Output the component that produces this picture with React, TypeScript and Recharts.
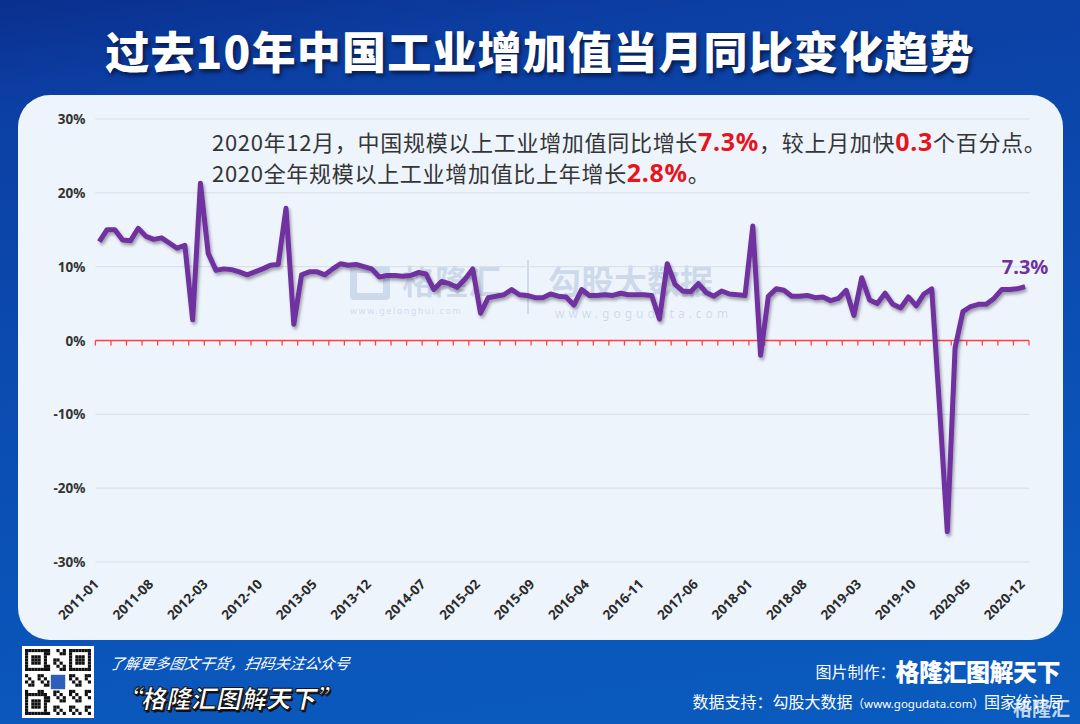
import React from "react";
import {
  ComposedChart,
  Line,
  XAxis,
  YAxis,
  CartesianGrid,
  ReferenceLine,
  LabelList,
} from "recharts";

// 2011-01 .. 2020-12
const years = [2011, 2012, 2013, 2014, 2015, 2016, 2017, 2018, 2019, 2020];
const monthNums = ["01", "02", "03", "04", "05", "06", "07", "08", "09", "10", "11", "12"];
const months = years.flatMap((y) => monthNums.map((m) => `${y}-${m}`));

// 工业增加值当月同比 (%)
const yoy = [
  13.4, 15.0, 15.0, 13.6, 13.5, 15.2, 14.1, 13.7, 13.9, 13.2, 12.5, 12.9,
  2.8, 21.3, 11.8, 9.5, 9.7, 9.6, 9.3, 8.9, 9.3, 9.7, 10.2, 10.3,
  17.9, 2.2, 8.9, 9.3, 9.3, 8.9, 9.7, 10.4, 10.2, 10.3, 10.0, 9.7,
  8.6, 8.8, 8.8, 8.7, 8.8, 9.2, 9.0, 6.9, 8.0, 7.7, 7.2, 8.3,
  9.7, 3.7, 5.8, 6.0, 6.2, 6.9, 6.2, 6.1, 5.8, 5.8, 6.3, 6.0,
  5.9, 4.8, 6.9, 6.1, 6.1, 6.2, 6.1, 6.4, 6.2, 6.2, 6.2, 6.1,
  2.9, 10.4, 7.6, 6.7, 6.6, 7.7, 6.5, 6.0, 6.7, 6.3, 6.2, 6.1,
  15.5, -2.0, 6.0, 7.0, 6.8, 6.0, 6.0, 6.1, 5.8, 5.9, 5.4, 5.7,
  6.8, 3.4, 8.5, 5.5, 5.0, 6.4, 4.9, 4.4, 5.9, 4.7, 6.3, 7.0,
  -9.0, -25.9, -1.0, 3.9, 4.6, 4.9, 4.9, 5.7, 6.9, 6.9, 7.0, 7.3,
];

const yTicks = [-30, -20, -10, 0, 10, 20, 30];

const data = months.map((month, i) => ({ month, yoy: yoy[i] }));

const PURPLE = "#7030a0";
const RED = "#e8141c";
const FONT = '"Noto Sans", "Noto Sans CJK SC", sans-serif';
const CJK = '"Noto Sans CJK SC", "Noto Sans", sans-serif';
const WM = "rgba(120,150,190,0.28)";

const MonthTick = ({ x, y, payload }: any) => {
  const tx = x + 0.5;
  const ty = y + 23;
  return (
    <text
      x={tx}
      y={ty}
      transform={`rotate(-45 ${tx} ${ty})`}
      textAnchor="end"
      fontSize={13.5}
      fontWeight={700}
      fill="#2b2b2b"
      fontFamily={FONT}
    >
      {payload.value}
    </text>
  );
};

const PctTick = ({ x, y, payload }: any) => (
  <text
    x={x}
    y={y}
    dy={5}
    textAnchor="end"
    fontSize={13.5}
    fontWeight={700}
    fill="#333"
    fontFamily={FONT}
  >
    {payload.value}%
  </text>
);

// 0 轴红线，每两个月一个刻度（刻度在分类边界）
const ZeroAxis = (props: any) => {
  const { x1, y1, x2 } = props;
  const step = (x2 - x1) / months.length;
  const ticks = [];
  for (let k = 0; k <= months.length; k += 2) {
    const tx = x1 + step * k;
    ticks.push(
      <line key={k} x1={tx} y1={y1} x2={tx} y2={y1 + 5} stroke="#ff4040" strokeWidth={1.3} />
    );
  }
  return (
    <g>
      <line x1={x1} y1={y1} x2={x2} y2={y1} stroke="#ff4040" strokeWidth={1.6} />
      {ticks}
    </g>
  );
};

const LastLabel = (props: any) => {
  const { x, y, value, index } = props;
  if (index !== yoy.length - 1) return null;
  return (
    <text
      x={x}
      y={y - 13}
      textAnchor="middle"
      fontSize={20}
      fontWeight={700}
      fill={PURPLE}
      fontFamily={FONT}
    >
      {value}%
    </text>
  );
};

const QR = () => {
  const n = 21;
  const cells = [];
  const finder = (r: number, c: number) => {
    const inBox = (r0: number, c0: number) =>
      r >= r0 && r < r0 + 7 && c >= c0 && c < c0 + 7;
    for (const [r0, c0] of [[0, 0], [0, n - 7], [n - 7, 0]]) {
      if (inBox(r0, c0)) {
        const rr = r - r0;
        const cc = c - c0;
        const ring = rr === 0 || rr === 6 || cc === 0 || cc === 6;
        const core = rr >= 2 && rr <= 4 && cc >= 2 && cc <= 4;
        return ring || core ? 1 : 0;
      }
    }
    return -1;
  };
  for (let r = 0; r < n; r++) {
    for (let c = 0; c < n; c++) {
      const f = finder(r, c);
      const on = f === -1 ? (r * 7 + c * 13 + r * c) % 5 < 2 : f === 1;
      if (on) cells.push(<rect key={`${r}-${c}`} x={c} y={r} width={1} height={1} fill="#111" />);
    }
  }
  return (
    <svg width={66} height={66} viewBox={`0 0 ${n} ${n}`} style={{ display: "block" }}>
      {cells}
      <rect x={8} y={8} width={5} height={5} fill="#2b5fb8" stroke="#fff" strokeWidth={0.4} />
    </svg>
  );
};

export default function App() {
  return (
    <div
      style={{
        position: "absolute",
        left: 0,
        top: 0,
        width: 1080,
        height: 724,
        overflow: "hidden",
        fontFamily: CJK,
        background:
          "linear-gradient(172deg, #0a2f8e 0%, #0c3fa3 12%, #0b4cb1 45%, #0a5cc0 100%)",
      }}
    >
      <svg width={0} height={0} style={{ position: "absolute" }}>
        <defs>
          <filter id="lineShadow" x="-5%" y="-5%" width="110%" height="120%">
            <feDropShadow dx={1.5} dy={2.5} stdDeviation={1.4} floodColor="#000" floodOpacity={0.35} />
          </filter>
        </defs>
      </svg>
      <style>{`.purple-line { filter: url(#lineShadow); }`}</style>

      {/* title */}
      <div
        style={{
          position: "absolute",
          left: 0,
          top: 20,
          width: 1080,
          textAlign: "center",
          color: "#fff",
          fontSize: 44,
          fontWeight: 900,
          lineHeight: "60px",
          letterSpacing: 1.2,
          textShadow: "2px 3px 4px rgba(0,0,20,0.6)",
        }}
      >
        过去10年中国工业增加值当月同比变化趋势
      </div>

      {/* panel */}
      <div
        style={{
          position: "absolute",
          left: 18,
          top: 95,
          width: 1045,
          height: 545,
          borderRadius: 32,
          background: "#edf4fc",
        }}
      />

      {/* watermark */}
      <div style={{ position: "absolute", left: 350, top: 264, color: WM, lineHeight: 1 }}>
        <div
          style={{
            position: "absolute",
            left: 0,
            top: 2,
            width: 40,
            height: 34,
            border: `7px solid ${WM}`,
            borderRadius: 4,
            boxSizing: "border-box",
          }}
        />
        <div style={{ position: "absolute", left: 52, top: 0, fontSize: 33, fontWeight: 700, whiteSpace: "nowrap" }}>
          格隆汇
        </div>
        <div style={{ position: "absolute", left: 177, top: -4, width: 2, height: 54, background: WM }} />
        <div style={{ position: "absolute", left: 198, top: 0, fontSize: 33, fontWeight: 700, whiteSpace: "nowrap" }}>
          勾股大数据
        </div>
        <div style={{ position: "absolute", left: 0, top: 42, fontSize: 9, fontFamily: FONT, letterSpacing: 1.5, whiteSpace: "nowrap" }}>
          www.gelonghui.com
        </div>
        <div style={{ position: "absolute", left: 205, top: 44, fontSize: 12, fontFamily: FONT, letterSpacing: 4, whiteSpace: "nowrap" }}>
          www.gogudata.com
        </div>
      </div>

      {/* chart */}
      <div style={{ position: "absolute", left: 0, top: 0 }}>
        <ComposedChart
          width={1080}
          height={724}
          data={data}
          margin={{ top: 119, right: 51, bottom: 102, left: 35.4 }}
        >
          <CartesianGrid horizontal vertical={false} stroke="#d8dde3" strokeWidth={1} />
          <XAxis
            dataKey="month"
            scale="band"
            interval={6}
            axisLine={false}
            tickLine={false}
            tickSize={0}
            tickMargin={0}
            height={60}
            tick={<MonthTick />}
          />
          <YAxis
            domain={[-30, 30]}
            ticks={yTicks}
            width={60}
            axisLine={false}
            tickLine={false}
            tickSize={0}
            tickMargin={10}
            tick={<PctTick />}
          />
          <ReferenceLine y={0} shape={(p: any) => <ZeroAxis {...p} />} />
          <Line
            className="purple-line"
            type="linear"
            dataKey="yoy"
            stroke={PURPLE}
            strokeWidth={5}
            strokeLinejoin="round"
            dot={false}
            isAnimationActive={false}
          >
            <LabelList dataKey="yoy" content={<LastLabel />} />
          </Line>
        </ComposedChart>
      </div>

      {/* annotation */}
      <div
        style={{
          position: "absolute",
          left: 212,
          top: 126,
          fontSize: 22,
          lineHeight: "31px",
          letterSpacing: 0.7,
          color: "#353535",
          whiteSpace: "nowrap",
        }}
      >
        <div>
          2020年12月，中国规模以上工业增加值同比增长
          <span style={{ color: RED, fontWeight: 700, fontSize: 25, fontFamily: FONT }}>7.3%</span>
          ，较上月加快
          <span style={{ color: RED, fontWeight: 700, fontSize: 25, fontFamily: FONT }}>0.3</span>
          个百分点。
        </div>
        <div>
          2020全年规模以上工业增加值比上年增长
          <span style={{ color: RED, fontWeight: 700, fontSize: 25, fontFamily: FONT }}>2.8%</span>
          。
        </div>
      </div>

      {/* footer left */}
      <div
        style={{
          position: "absolute",
          left: 22,
          top: 646,
          width: 72,
          height: 72,
          background: "#fff",
          display: "flex",
          alignItems: "center",
          justifyContent: "center",
        }}
      >
        <QR />
      </div>
      <div
        style={{
          position: "absolute",
          left: 110,
          top: 652,
          fontSize: 15,
          fontStyle: "italic",
          color: "#fff",
          whiteSpace: "nowrap",
          transform: "skewX(-10deg)",
        }}
      >
        了解更多图文干货，扫码关注公众号
      </div>
      <div
        style={{
          position: "absolute",
          left: 118,
          top: 679,
          fontSize: 25,
          fontWeight: 900,
          color: "#fff",
          whiteSpace: "nowrap",
          transform: "skewX(-12deg)",
          WebkitTextStroke: "1px #111",
          textShadow: "2px 2px 0 #111",
        }}
      >
        “格隆汇图解天下”
      </div>

      {/* footer right */}
      <div
        style={{
          position: "absolute",
          right: 20,
          top: 653,
          color: "#fff",
          whiteSpace: "nowrap",
          display: "flex",
          alignItems: "center",
        }}
      >
        <span style={{ fontSize: 16 }}>图片制作：</span>
        <span style={{ fontSize: 24, fontWeight: 900, letterSpacing: -0.5 }}>格隆汇图解天下</span>
      </div>
      <div
        style={{
          position: "absolute",
          right: 16,
          top: 689,
          color: "#fff",
          fontSize: 16,
          whiteSpace: "nowrap",
        }}
      >
        数据支持：勾股大数据
        <span style={{ fontSize: 11.5, fontFamily: FONT }}>（www.gogudata.com）</span>
        国家统计局
      </div>
      <div
        style={{
          position: "absolute",
          right: 10,
          top: 698,
          color: "rgba(255,255,255,0.75)",
          fontSize: 19,
          fontWeight: 700,
          lineHeight: 1,
          whiteSpace: "nowrap",
        }}
      >
        格隆汇
      </div>
    </div>
  );
}
